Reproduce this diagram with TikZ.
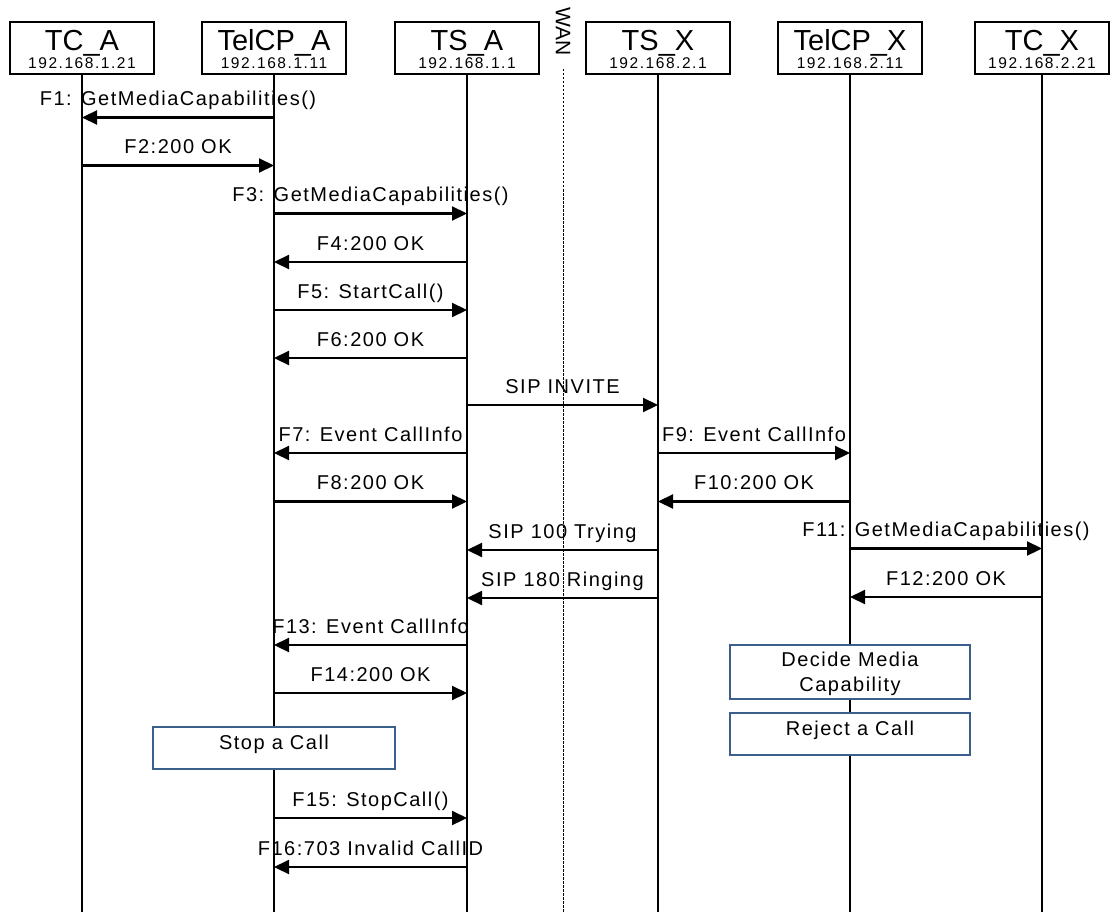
\documentclass[tikz,border=0pt]{standalone}
\usepackage{fontspec}
\setmainfont{Liberation Sans}[LetterSpace=7.5]
\newfontfamily\titlefont{Liberation Sans}
\usetikzlibrary{calc,arrows.meta}
\definecolor{actblue}{RGB}{58,95,140}

\tikzset{
  hdbox/.style={draw, line width=1.6pt, fill=white, minimum height=52pt, inner sep=0pt},
  hdtitle/.style={anchor=base, inner sep=0pt, font=\titlefont\fontsize{29}{32}\selectfont},
  hdip/.style={anchor=base, inner sep=0pt, font=\fontsize{15.5}{18}\selectfont\addfontfeature{LetterSpace=10}},
  life/.style={line width=1.6pt},
  wanline/.style={line width=0.9pt, dash pattern=on 2.5pt off 1.5pt},
  msg/.style={line width=2.2pt, -{Triangle[length=15pt,width=14pt]}},
  lbl/.style={midway, anchor=base, yshift=12pt, inner sep=0pt, font=\fontsize{20}{24}\selectfont},
  actbox/.style={draw=actblue, line width=1.4pt, fill=white, inner sep=0pt},
  acttxt/.style={anchor=base, inner sep=0pt, font=\fontsize{20}{24}\selectfont}
}

\begin{document}
\begin{tikzpicture}[x=1pt,y=-1pt]
    \useasboundingbox (0,0) rectangle (1110,912);
    % Draw the heads and the lifelines
    \foreach \n/\x/\w/\t/\ip in {tca/82/144/TC\_A/192.168.1.21,
        tcpa/274/144/TelCP\_A/192.168.1.11, tsa/467/144/TS\_A/192.168.1.1,
        tsx/658/144/TS\_X/192.168.2.1, tcpx/850/144/TelCP\_X/192.168.2.11,
        tcx/1042/134/TC\_X/192.168.2.21} {
        \draw[life] (\x,74) -- (\x,912);
        \node[hdbox, minimum width=\w pt] (\n) at (\x,48) {};
        \node[hdtitle] (\n-t) at ($(\n)+(0,2.5)$) {\t};
        \node[hdip] (\n-ip) at ($(\n)+(0,20.3)$) {\ip};
    }
    % Draw the WAN border
    \node[rotate=-90, inner sep=0pt, font=\titlefont\fontsize{21}{24}\selectfont] (wan) at (563,32) {WAN};
    \draw[wanline] (wan |- 0,69) -- (wan |- 0,912);
    % Messages on side A
    \draw[msg] (tcpa |- 0,117.5) -- node[lbl] (f1) {F1: GetMediaCapabilities()} (tca |- 0,117.5);
    \draw[msg] (tca |- 0,165.5) -- node[lbl] (f2) {F2:200 OK} (tcpa |- 0,165.5);
    \draw[msg] (tcpa |- 0,213.5) -- node[lbl] (f3) {F3: GetMediaCapabilities()} (tsa |- 0,213.5);
    \draw[msg] (tsa |- 0,262) -- node[lbl] (f4) {F4:200 OK} (tcpa |- 0,262);
    \draw[msg] (tcpa |- 0,310) -- node[lbl] (f5) {F5: StartCall()} (tsa |- 0,310);
    \draw[msg] (tsa |- 0,358) -- node[lbl] (f6) {F6:200 OK} (tcpa |- 0,358);
    % SIP signalling over the WAN
    \draw[msg] (tsa |- 0,405) -- node[lbl] (invite) {SIP INVITE} (tsx |- 0,405);
    \draw[msg] (tsa |- 0,453) -- node[lbl] (f7) {F7: Event CallInfo} (tcpa |- 0,453);
    \draw[msg] (tsx |- 0,453) -- node[lbl] (f9) {F9: Event CallInfo} (tcpx |- 0,453);
    \draw[msg] (tcpa |- 0,501.5) -- node[lbl] (f8) {F8:200 OK} (tsa |- 0,501.5);
    \draw[msg] (tcpx |- 0,501.5) -- node[lbl] (f10) {F10:200 OK} (tsx |- 0,501.5);
    \draw[msg] (tsx |- 0,550) -- node[lbl] (trying) {SIP 100 Trying} (tsa |- 0,550);
    \draw[msg] (tcpx |- 0,548.5) -- node[lbl] (f11) {F11: GetMediaCapabilities()} (tcx |- 0,548.5);
    \draw[msg] (tsx |- 0,598) -- node[lbl] (ringing) {SIP 180 Ringing} (tsa |- 0,598);
    \draw[msg] (tcx |- 0,597) -- node[lbl] (f12) {F12:200 OK} (tcpx |- 0,597);
    \draw[msg] (tsa |- 0,645) -- node[lbl] (f13) {F13: Event CallInfo} (tcpa |- 0,645);
    \draw[msg] (tcpa |- 0,693) -- node[lbl] (f14) {F14:200 OK} (tsa |- 0,693);
    % Action boxes
    \node[actbox, minimum width=242pt, minimum height=42pt] (stop) at (274,748) {};
    \node[acttxt] (stop-t) at ($(stop)+(0,1.3)$) {Stop a Call};
    \node[actbox, minimum width=240pt, minimum height=54pt] (decide) at (850,672) {};
    \node[acttxt] (decide-t1) at ($(decide)+(0,-5.3)$) {Decide Media};
    \node[acttxt] (decide-t2) at ($(decide)+(0,19.7)$) {Capability};
    \node[actbox, minimum width=240pt, minimum height=42pt] (reject) at (850,734) {};
    \node[acttxt] (reject-t) at ($(reject)+(0,1)$) {Reject a Call};
    % Stopping the call
    \draw[msg] (tcpa |- 0,818) -- node[lbl] (f15) {F15: StopCall()} (tsa |- 0,818);
    \draw[msg] (tsa |- 0,867) -- node[lbl] (f16) {F16:703 Invalid CallID} (tcpa |- 0,867);
\end{tikzpicture}
\end{document}
